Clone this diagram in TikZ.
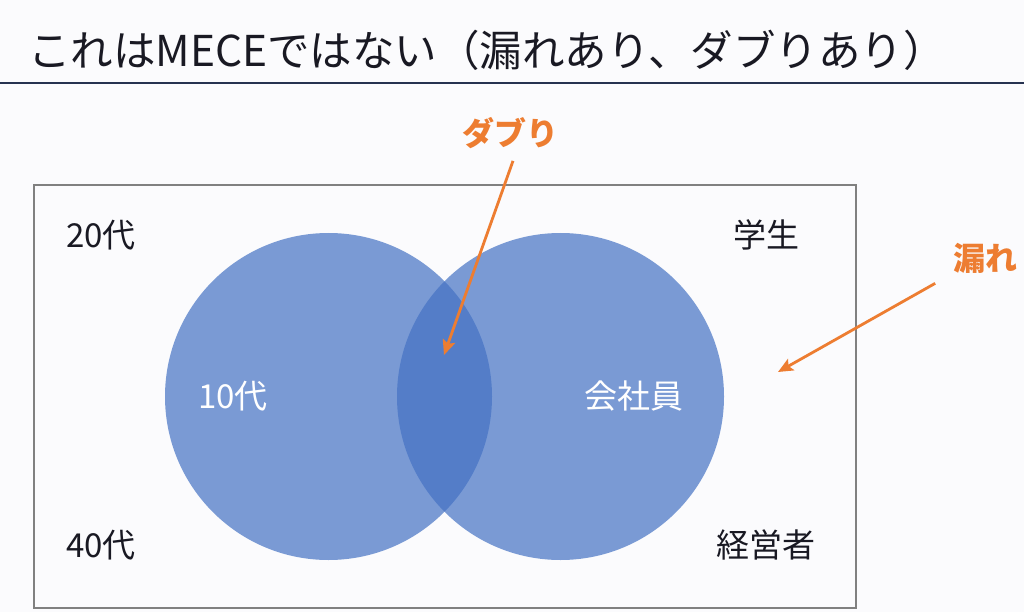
\documentclass[tikz,border=0pt]{standalone}
\usepackage{fontspec}
\setmainfont{Noto Sans CJK JP}
\usetikzlibrary{arrows.meta}
\definecolor{bg}{RGB}{251,251,253}
\definecolor{navy}{RGB}{38,50,80}
\definecolor{framegray}{RGB}{128,128,128}
\definecolor{vennblue}{RGB}{68,114,196}
\definecolor{accent}{RGB}{237,125,49}
\definecolor{ink}{RGB}{25,25,35}
\tikzset{
  label/.style={inner sep=0pt, font=\fontsize{33}{36}\selectfont, text=ink},
  inlabel/.style={inner sep=0pt, font=\fontsize{33}{36}\selectfont, text=white},
  callout/.style={inner sep=0pt, font=\fontsize{32}{36}\selectfont\bfseries, text=accent},
  pointer/.style={draw=accent, line width=2.8pt, -{Stealth[length=15pt,width=13pt,inset=3pt]}},
  venn/.style={fill=vennblue, fill opacity=0.7, draw=none}
}
\begin{document}
\begin{tikzpicture}[x=1pt,y=-1pt]
  \fill[bg] (0,0) rectangle (1024,612);
  \useasboundingbox (0,0) rectangle (1024,612);
  % title
  \node[anchor=west, inner sep=0pt, font=\fontsize{42.5}{46}\selectfont, text=ink] (title) at (28,50) {これはMECEではない（漏れあり、ダブりあり）};
  \draw[navy, line width=2.2pt] (0,83) -- (1024,83);
  % frame
  \node[draw=framegray, line width=1.2pt, minimum width=822pt, minimum height=423pt, inner sep=0pt] (frame) at (445,396.5) {};
  % circles
  \node[venn, circle, minimum size=327pt, inner sep=0pt] (left) at (328.5,396.5) {};
  \node[venn, circle, minimum size=327pt, inner sep=0pt] (right) at (560.5,396.5) {};
  % labels
  \node[label] (l20) at (101,235) {20代};
  \node[label] (stu) at (766,235) {学生};
  \node[label] (l40) at (101,545) {40代};
  \node[label] (mgr) at (766,545) {経営者};
  \node[inlabel] (l10) at (233,396) {10代};
  \node[inlabel] (emp) at (634,396) {会社員};
  % callouts
  \node[callout] (dabu) at (510,133) {ダブり};
  \node[callout, anchor=west] (more) at (953,258) {漏れ};
  \coordinate (overlap) at (444,355);
  \coordinate (outside) at (778,372);
  \draw[pointer] ([xshift=3pt,yshift=-12pt]dabu.south) -- (overlap);
  \draw[pointer] ([xshift=-50pt,yshift=-10pt]more.south) -- (outside);
\end{tikzpicture}
\end{document}
